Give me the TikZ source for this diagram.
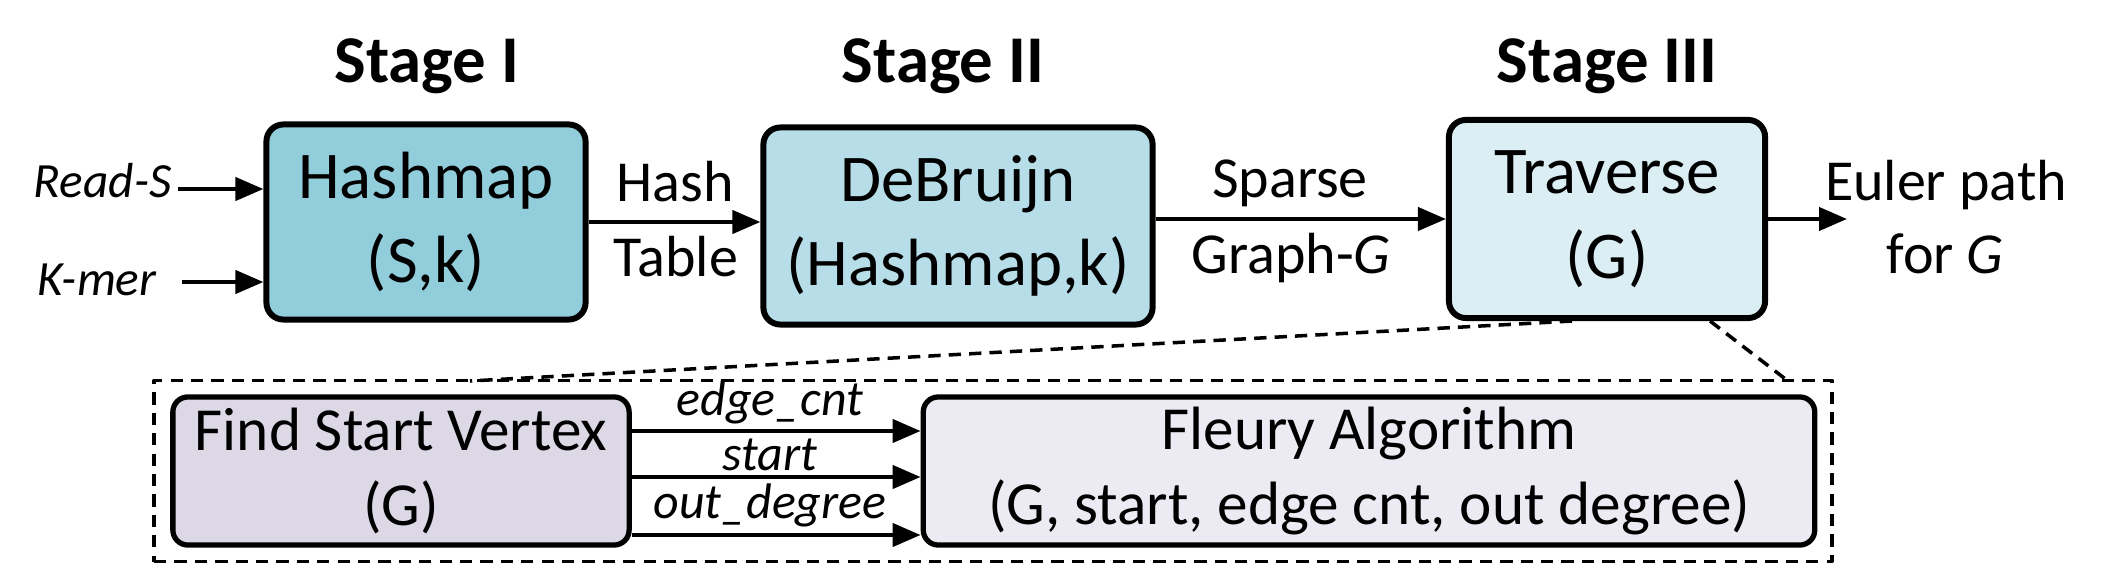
\documentclass[tikz,border=0pt]{standalone}
\usepackage{fontspec}
\setmainfont{Carlito}
\usetikzlibrary{arrows.meta}
\definecolor{stgA}{HTML}{92CDDC}
\definecolor{stgB}{HTML}{B7DEE8}
\definecolor{stgC}{HTML}{DAEEF3}
\definecolor{subA}{HTML}{DCD8E6}
\definecolor{subB}{HTML}{ECEAF2}
\begin{document}
\begin{tikzpicture}[x=0.01cm,y=-0.01cm,line join=round,
	>={Triangle[length=0.28cm,width=0.23cm]},
	blk/.style={draw,line width=1.7pt,rounded corners=0.17cm,align=center,inner sep=0pt,font=\fontsize{19}{24}\selectfont},
	subblk/.style={draw,line width=1.5pt,rounded corners=0.15cm,align=center,inner sep=0pt,font=\fontsize{17.4}{21.5}\selectfont},
	lbl/.style={anchor=base,inner sep=0pt,font=\fontsize{16.5}{20}\selectfont},
	inlbl/.style={anchor=base east,inner sep=0pt,font=\fontsize{14}{17}\selectfont\itshape},
	sublbl/.style={anchor=base,inner sep=0pt,font=\fontsize{14.2}{17}\selectfont\itshape},
	stg/.style={anchor=base,inner sep=0pt,font=\fontsize{19}{23}\selectfont\bfseries},
	arr/.style={->,line width=1.2pt},
	zoomline/.style={line width=1pt,dash pattern=on 3.5pt off 2.3pt}]
	\useasboundingbox (0,0) rectangle (2125,576);
	\foreach \s/\x in {I/427,II/943,III/1607}
		\node[stg] (stage\s) at (\x,83) {Stage \s};
	\node[blk,fill=stgA,minimum width=3.19cm,minimum height=1.95cm] (hashmap) at (426,222) {Hashmap\\(S,k)};
	\node[blk,fill=stgB,minimum width=3.89cm,minimum height=1.97cm] (debruijn) at (958,226) {DeBruijn\\(Hashmap,k)};
	\node[blk,fill=stgC,minimum width=3.16cm,minimum height=1.98cm] (traverse) at (1607,219) {Traverse\\(G)};
	% inputs
	\node[inlbl] (reads) at (172,198) {Read-S};
	\node[inlbl] (kmer) at (157,295) {K-mer};
	\coordinate (ins) at (178,189);
	\coordinate (ink) at (182,282);
	\draw[arr] (ins) -- (ins -| hashmap.west);
	\draw[arr] (ink) -- (ink -| hashmap.west);
	\draw[arr] (hashmap.east) -- (hashmap.east -| debruijn.west);
	\node[lbl] (hashlbl) at (675,202) {Hash};
	\node[lbl] (tablelbl) at (676,276) {Table};
	\draw[arr] (traverse.west -| debruijn.east) -- (traverse.west);
	\node[lbl] (sparselbl) at (1290,198) {Sparse};
	\node[lbl] (graphlbl) at (1291,273) {Graph-\textit{G}};
	\coordinate (eout) at (1847,219);
	\draw[arr] (traverse.east) -- (eout);
	\node[lbl] (eulerlbl) at (1946,200) {Euler path};
	\node[lbl] (forlbl) at (1945,273) {for \textit{G}};
	% zoom of stage III
	\node[draw,zoomline,minimum width=16.77cm,minimum height=1.81cm,inner sep=0pt] (subbox) at (993,471) {};
	\coordinate (zl) at (470,381);
	\coordinate (zr) at (1788,381);
	\draw[zoomline] ([xshift=-0.35cm]traverse.south) -- (zl);
	\draw[zoomline] ([xshift=1.03cm]traverse.south) -- (zr);
	\node[subblk,fill=subA,minimum width=4.56cm,minimum height=1.48cm] (findsv) at (401,471) {Find Start Vertex\\(G)};
	\node[subblk,fill=subB,minimum width=8.91cm,minimum height=1.48cm] (fleury) at (1369,471) {Fleury Algorithm\\(G, start, edge cnt, out degree)};
	\foreach \ay/\by/\t in {431/415/edge\_cnt,477/470/start,535/518/out\_degree}{
		\draw[arr] (findsv.east |- 0,\ay) -- (fleury.west |- 0,\ay);
		\node[sublbl] (par\ay) at (770,\by) {\t};}
\end{tikzpicture}
\end{document}
